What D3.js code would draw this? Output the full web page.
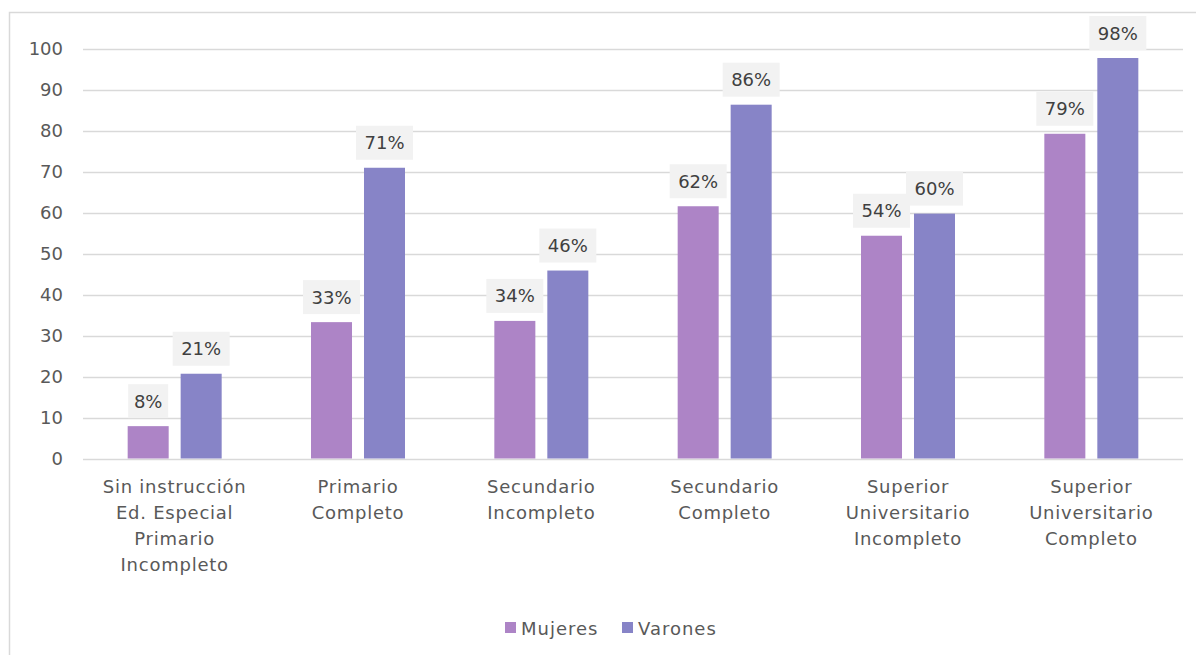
<!DOCTYPE html>
<html><head><meta charset="utf-8">
<script src="https://cdn.jsdelivr.net/npm/d3@7"></script>
<style>body{margin:0;background:#fff;} svg{display:block;font-family:"DejaVu Sans",sans-serif;}</style>
</head><body><svg id="c" width="1196" height="655"></svg>
<script>
const categories = [
  ["Sin instrucción","Ed. Especial","Primario","Incompleto"],
  ["Primario","Completo"],
  ["Secundario","Incompleto"],
  ["Secundario","Completo"],
  ["Superior","Universitario","Incompleto"],
  ["Superior","Universitario","Completo"]
];
const seriesNames = ["Mujeres","Varones"];
const mujeres = [7.9, 33.3, 33.6, 61.6, 54.4, 79.3];
const varones = [20.7, 71.0, 45.9, 86.4, 59.8, 97.8];
const yTicks = [0,10,20,30,40,50,60,70,80,90,100];
const colors = ["#AD84C6","#8784C7"];

(function(){
const FONT = "DejaVu Sans";
const svg = d3.select("#c");
svg.append("rect").attr("x",9.5).attr("y",12.5).attr("width",1200).attr("height",660)
  .attr("fill","none").attr("stroke","#d9d9d9").attr("stroke-width",1.5);

const pl=83, pr=1183, pt=49, pb=458.5;
const y = d3.scaleLinear().domain([0,100]).range([pb, pt]);
const idx = categories.map((d,i)=>i);
const x0 = d3.scaleBand().domain(idx).range([pl,pr]).paddingInner(0).paddingOuter(0);
const x1 = d3.scaleBand().domain([0,1]).range([x0.bandwidth()/2-47, x0.bandwidth()/2+47]).paddingInner(0.226).paddingOuter(0);

svg.append("g").selectAll("line").data(yTicks).join("line")
  .attr("x1",pl).attr("x2",pr).attr("y1",d=>Math.round(y(d))+0.5).attr("y2",d=>Math.round(y(d))+0.5)
  .attr("stroke","#d9d9d9").attr("stroke-width",1.3);

const yAxis = d3.axisLeft(y).tickValues(yTicks).tickSize(0).tickPadding(0);
const ga = svg.append("g").attr("transform",`translate(${pl-20},0)`).call(yAxis);
ga.select(".domain").remove();
ga.selectAll("text").attr("font-size",18).attr("fill","#595959").attr("font-family",FONT);

const data = [mujeres, varones];
const g = svg.append("g");
idx.forEach(i=>{
  data.forEach((s,k)=>{
    const bx = x0(i)+x1(k), bw = x1.bandwidth(), by = y(s[i]);
    g.append("rect").attr("x",bx).attr("y",by).attr("width",bw).attr("height",pb-by).attr("fill",colors[k]);
    const lbl = Math.round(s[i])+"%";
    const cx = bx+bw/2;
    const bwid = lbl.length>2?57:40;
    g.append("rect").attr("x",cx-bwid/2).attr("y",by-42).attr("width",bwid).attr("height",34).attr("fill","#f2f2f2");
    g.append("text").attr("x",cx).attr("y",by-18.5).attr("text-anchor","middle").attr("font-size",18)
      .attr("fill","#404040").text(lbl);
  });
  const t = svg.append("text").attr("text-anchor","middle").attr("font-size",18).attr("letter-spacing",0.75).attr("fill","#595959");
  categories[i].forEach((line,j)=>{
    t.append("tspan").attr("x",x0(i)+x0.bandwidth()/2).attr("y",493+j*26).text(line);
  });
});

const leg = svg.append("g");
const legX = [505, 622];
seriesNames.forEach((n,k)=>{
  leg.append("rect").attr("x",legX[k]).attr("y",622).attr("width",11).attr("height",11).attr("fill",colors[k]);
  leg.append("text").attr("x",legX[k]+16).attr("y",635).attr("font-size",18).attr("letter-spacing",1).attr("fill","#595959").text(n);
});
})();
</script></body></html>
